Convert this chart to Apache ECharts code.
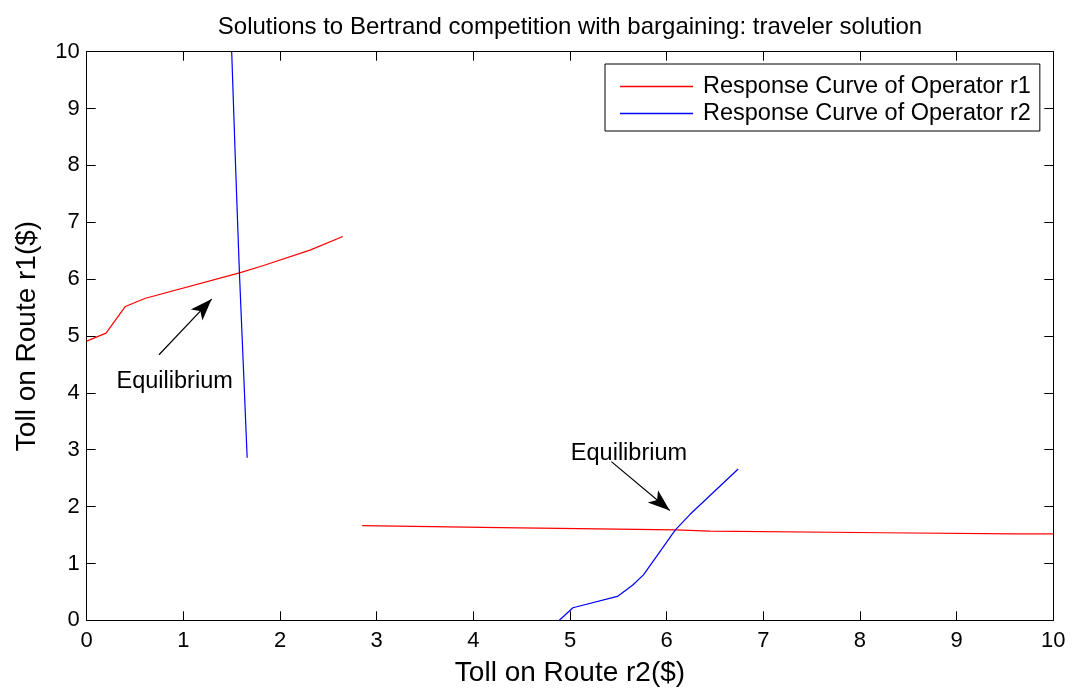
<!DOCTYPE html>
<html>
<head>
<meta charset="utf-8">
<title>Bertrand competition with bargaining</title>
<script src="https://cdn.jsdelivr.net/npm/echarts@6/dist/echarts.min.js"></script>
<style>
  html, body { margin: 0; padding: 0; background: #fff; }
  #chart { width: 1078px; height: 698px; }
</style>
</head>
<body>
<div id="chart"></div>
<script>
// Response curves: [toll on r2, toll on r1]
const r1CurveUpper = [[0, 4.91], [0.2, 5.05], [0.4, 5.52], [0.6, 5.66], [1.58, 6.11], [1.83, 6.24], [2.31, 6.51], [2.65, 6.75]];
const r1CurveLower = [[2.85, 1.665], [4.28, 1.63], [6.09, 1.59], [6.45, 1.57], [8.23, 1.54], [9.6, 1.52], [10, 1.52]];
const r2CurveUpper = [[1.50, 10], [1.54, 8], [1.58, 6.11], [1.62, 4.5], [1.66, 2.86]];
const r2CurveLower = [[4.89, 0], [5.03, 0.22], [5.49, 0.42], [5.65, 0.62], [5.76, 0.80], [6.09, 1.59], [6.24, 1.86], [6.74, 2.66]];

// Equilibrium annotations: arrow [tail, tip] and label anchor
const arrowShafts = [
  [[0.748, 4.67], [1.293, 5.65]],
  [[5.428, 2.79], [6.032, 1.93]]
];
const noteLabels = [[0.91, 4.20, 'Equilibrium'], [5.61, 2.94, 'Equilibrium']];

const axisTicks = [0, 1, 2, 3, 4, 5, 6, 7, 8, 9, 10];

const seriesNames = ['Response Curve of Operator r1', 'Response Curve of Operator r2'];
const FONT = "'Liberation Sans', Arial, Helvetica, sans-serif";

const chart = echarts.init(document.getElementById('chart'), null, { renderer: 'canvas' });

const frameAxis = (extra) => Object.assign({
  type: 'value',
  min: axisTicks[0],
  max: axisTicks[axisTicks.length - 1],
  interval: 1,
  axisLine: { show: true, onZero: false, lineStyle: { color: '#000', width: 1 } },
  axisTick: { show: true, inside: true, length: 9, lineStyle: { color: '#000', width: 1 } },
  splitLine: { show: false },
  axisLabel: { show: false }
}, extra);

const curveLine = (name, color, data) => ({
  name, type: 'line', data,
  xAxisIndex: 0, yAxisIndex: 0,
  showSymbol: false, symbol: 'none',
  lineStyle: { color, width: 1.2 },
  itemStyle: { color },
  animation: false, silent: true, z: 3
});

chart.setOption({
  backgroundColor: '#fff',
  animation: false,
  title: {
    text: 'Solutions to Bertrand competition with bargaining: traveler solution',
    left: 565, top: 10, textAlign: 'center',
    textStyle: { fontFamily: FONT, fontSize: 24, fontWeight: 'normal', color: '#000' }
  },
  grid: { left: 86.7, right: 24.7, top: 51.7, bottom: 77.7, containLabel: false },
  legend: {
    data: seriesNames.map(name => ({ name, icon: 'rect' })),
    orient: 'vertical',
    left: 605, top: 64,
    padding: [9, 9, 4, 15],
    itemGap: 0,
    itemWidth: 73, itemHeight: 1.3,
    backgroundColor: '#fff',
    borderColor: '#000', borderWidth: 1, borderRadius: 0,
    textStyle: { fontFamily: FONT, fontSize: 23.5, color: '#000', lineHeight: 27, padding: [0, 0, 0, 5] },
    selectedMode: false
  },
  xAxis: [
    frameAxis({
      position: 'bottom',
      name: 'Toll on Route r2($)', nameLocation: 'middle', nameGap: 39,
      nameTextStyle: { fontFamily: FONT, fontSize: 28, color: '#000' },
      axisLabel: { show: true, fontFamily: FONT, fontSize: 22, color: '#000', margin: 10 }
    }),
    frameAxis({ position: 'top' })
  ],
  yAxis: [
    frameAxis({
      position: 'left',
      name: 'Toll on Route r1($)', nameLocation: 'middle', nameGap: 45,
      nameTextStyle: { fontFamily: FONT, fontSize: 28, color: '#000' },
      axisLabel: { show: true, fontFamily: FONT, fontSize: 22, color: '#000', margin: 7 }
    }),
    frameAxis({ position: 'right' })
  ],
  series: [
    curveLine(seriesNames[0], '#ff0000', r1CurveUpper),
    curveLine(seriesNames[0], '#ff0000', r1CurveLower),
    curveLine(seriesNames[1], '#0000ff', r2CurveUpper),
    curveLine(seriesNames[1], '#0000ff', r2CurveLower),
    {
      name: 'annotations', type: 'scatter',
      xAxisIndex: 0, yAxisIndex: 0,
      data: noteLabels,
      symbolSize: 0,
      itemStyle: { opacity: 1, color: '#000' },
      silent: true, z: 4,
      label: {
        show: true, position: 'inside',
        formatter: p => p.value[2],
        fontFamily: FONT, fontSize: 23.5, color: '#000', opacity: 1,
        textBorderWidth: 0
      },
      markLine: {
        silent: true, animation: false,
        symbol: ['none', 'arrow'],
        label: { show: false },
        lineStyle: { color: '#000', width: 1.2, type: 'solid', opacity: 1 },
        emphasis: { disabled: true },
        data: arrowShafts.map(([a, b]) => [
          { coord: a, symbol: 'none' },
          { coord: b, symbol: 'arrow', symbolSize: [12, 22] }
        ])
      }
    }
  ]
});
</script>
</body>
</html>
